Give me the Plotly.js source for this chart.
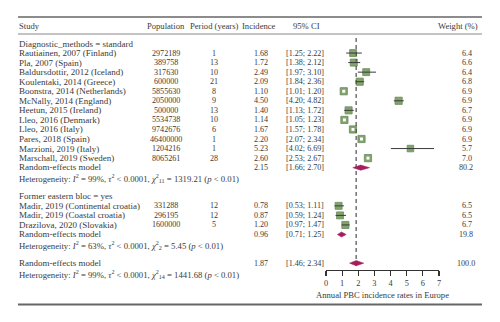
<!DOCTYPE html>
<html><head><meta charset="utf-8">
<script src="https://cdn.plot.ly/plotly-3.0.1.min.js"></script>
<style>body{margin:0;padding:0;background:#fff}#c{width:500px;height:322px}</style>
</head><body><div id="c"></div>
<script>
// ---- data ----
const group1Label = "Diagnostic_methods = standard";
const group2Label = "Former eastern bloc = yes";
const studies = ["Rautiainen, 2007 (Finland)","Pla, 2007 (Spain)","Baldursdottir, 2012 (Iceland)","Koulentaki, 2014 (Greece)","Boonstra, 2014 (Netherlands)","McNally, 2014 (England)","Heetun, 2015 (Ireland)","Lleo, 2016 (Denmark)","Lleo, 2016 (Italy)","Pares, 2018 (Spain)","Marzioni, 2019 (Italy)","Marschall, 2019 (Sweden)","Madir, 2019 (Continental croatia)","Madir, 2019 (Coastal croatia)","Drazilova, 2020 (Slovakia)"];
const population = ["2972189","389758","317630","600000","5855630","2050000","500000","5534738","9742676","46400000","1204216","8065261","331288","296195","1600000"];
const period = [1,13,10,21,8,9,13,10,6,1,1,28,12,12,5];
const incidence = [1.68,1.72,2.49,2.09,1.10,4.50,1.40,1.14,1.67,2.20,5.23,2.60,0.78,0.87,1.20];
const ciLow = [1.25,1.38,1.97,1.84,1.01,4.20,1.13,1.05,1.57,2.07,4.02,2.53,0.53,0.59,0.97];
const ciHigh = [2.22,2.12,3.10,2.36,1.20,4.82,1.72,1.23,1.78,2.34,6.69,2.67,1.11,1.24,1.47];
const weight = [6.4,6.6,6.4,6.8,6.9,6.9,6.7,6.9,6.9,6.9,5.7,7.0,6.5,6.5,6.7];
const groupOf = [1,1,1,1,1,1,1,1,1,1,1,1,2,2,2];
// pooled results: [estimate, low, high, weight]
const pooled1 = [2.15,1.66,2.70,80.2];
const pooled2 = [0.96,0.71,1.25,19.8];
const pooledAll = [1.87,1.46,2.34,100.0];
const het1 = "Heterogeneity: <i>I</i><sup>2</sup> = 99%, <i>τ</i><sup>2</sup> < 0.0001, <i>χ</i><sup>2</sup><sub>11</sub> = 1319.21 (<i>p</i> < 0.01)";
const het2 = "Heterogeneity: <i>I</i><sup>2</sup> = 63%, <i>τ</i><sup>2</sup> < 0.0001, <i>χ</i><sup>2</sup><sub>2</sub> = 5.45 (<i>p</i> < 0.01)";
const hetAll = "Heterogeneity: <i>I</i><sup>2</sup> = 99%, <i>τ</i><sup>2</sup> < 0.0001, <i>χ</i><sup>2</sup><sub>14</sub> = 1441.68 (<i>p</i> < 0.01)";
const headers = ["Study","Population","Period (years)","Incidence","95% CI","Weight (%)"];
const xTicks = [0,1,2,3,4,5,6,7];
const axisTitle = "Annual PBC incidence rates in Europe";

// ---- layout helpers ----
const W = 500, H = 322;
const FONT = "Liberation Serif, Times New Roman, serif";
const TXT = "#3a3a3a";
const rowY = k => 43.5 + k * 9.55;         // pixel row centre
const py = p => 1 - p / H;                  // pixel -> paper y
const px = p => p / W;                      // pixel -> paper x
const fmt2 = v => v.toFixed(2);
const fmtCI = (l,h) => "[" + fmt2(l) + "; " + fmt2(h) + "]";

const studyRow = [];
let k1 = 1, k2 = 17;
for (let i = 0; i < studies.length; i++) studyRow.push(groupOf[i] === 1 ? k1++ : k2++);
const rows = {g1:0, re1:13, het1:14, g2:16, re2:20, het2:21, reAll:23, hetAll:24};

const ann = [];
function t(text, x, p, anchor, size) {
  ann.push({text:text, xref:'paper', yref:'paper', x:px(x), y:py(p), xanchor:anchor, yanchor:'middle', showarrow:false, font:{family:FONT,size:size,color:TXT}, borderpad:0});
}
const S_LAB = 9, S_NUM = 8.1, S_HEAD = 8.6, S_HET = 8.7;
const X_STUDY = 18, X_POP = 166, X_PER = 214, X_INC = 261, X_CI = 285, X_W = 473;
const hy = 26;
t(headers[0], X_STUDY, hy, 'left', S_HEAD);
t(headers[1], X_POP, hy, 'center', S_HEAD);
t(headers[2], X_PER, hy, 'center', S_HEAD);
t(headers[3], X_INC - 2, hy, 'center', S_HEAD);
t(headers[4], 292, hy, 'left', S_HEAD);
t(headers[5], 479, hy, 'right', S_HEAD);
t(group1Label, X_STUDY, rowY(rows.g1), 'left', S_LAB);
t(group2Label, X_STUDY, rowY(rows.g2), 'left', S_LAB);
for (let i = 0; i < studies.length; i++) {
  const y = rowY(studyRow[i]);
  t(studies[i], X_STUDY, y, 'left', S_LAB);
  t(population[i], X_POP, y, 'center', S_NUM);
  t(String(period[i]), X_PER, y, 'center', S_NUM);
  t(fmt2(incidence[i]), X_INC, y, 'center', S_NUM);
  t(fmtCI(ciLow[i], ciHigh[i]), X_CI, y, 'left', S_NUM);
  t(weight[i].toFixed(1), X_W, y, 'right', S_NUM);
}
const pooledRows = [[pooled1, rows.re1, rows.het1, het1],[pooled2, rows.re2, rows.het2, het2],[pooledAll, rows.reAll, rows.hetAll, hetAll]];
pooledRows.forEach(([p, r, hr, ht]) => {
  const y = rowY(r);
  t("Random-effects model", X_STUDY, y - 0.5, 'left', S_LAB);
  t(fmt2(p[0]), X_INC, y, 'center', S_NUM);
  t(fmtCI(p[1], p[2]), X_CI, y, 'left', S_NUM);
  t(p[3].toFixed(1), X_W + (p[3] >= 100 ? 3 : 1), y, 'right', S_NUM);
  t(ht, X_STUDY, rowY(hr) + 1.5, 'left', S_HET);
});

const shapes = [
  {type:'line', xref:'paper', yref:'paper', x0:px(18), x1:px(482), y0:py(17), y1:py(17), line:{color:'#666', width:1.6}},
  {type:'line', xref:'paper', yref:'paper', x0:px(18), x1:px(482), y0:py(34), y1:py(34), line:{color:'#888', width:1}},
  {type:'line', xref:'paper', yref:'paper', x0:px(18), x1:px(482), y0:py(304.5), y1:py(304.5), line:{color:'#666', width:2}},
  {type:'line', xref:'x', yref:'y', x0:pooledAll[0], x1:pooledAll[0], y0:38, y1:267, line:{color:'#7a7a7a', width:1.6, dash:'4px,3px'}, layer:'below'}
];

const traces = [];
const sqPx = w => 7.2 * Math.sqrt(w / 6.9);
const unitPx = (439 - 326) / 7;
const lx = [], ly = [], wx = [], wy = [];
for (let i = 0; i < studies.length; i++) {
  const y = rowY(studyRow[i]);
  if ((ciHigh[i] - ciLow[i]) * unitPx > sqPx(weight[i])) { lx.push(ciLow[i], ciHigh[i], null); ly.push(y, y, null); }
  else { wx.push(incidence[i]); wy.push(y); }
}
traces.push({type:'scatter', mode:'markers', x:incidence, y:studyRow.map(rowY), marker:{symbol:'square', size:weight.map(sqPx), color:'#4d7d2f', line:{color:'#2f5a1a', width:0.8}}, cliponaxis:false, hoverinfo:'skip'});
traces.push({type:'scatter', mode:'lines', x:lx, y:ly, line:{color:'#3a3a3a', width:1}, cliponaxis:false, hoverinfo:'skip'});
traces.push({type:'scatter', mode:'markers', x:wx, y:wy, marker:{symbol:'square', size:3, color:'#ffffff', line:{width:0}}, cliponaxis:false, hoverinfo:'skip'});
pooledRows.forEach(([p, r]) => {
  const y = rowY(r), h = 2.6;
  traces.push({type:'scatter', mode:'lines', x:[p[1], p[0], p[2], p[0], p[1]], y:[y, y - h, y, y + h, y], fill:'toself', fillcolor:'#a51d5c', line:{color:'#a51d5c', width:0.5}, cliponaxis:false, hoverinfo:'skip'});
});

const layout = {
  width:W, height:H, margin:{l:0, r:0, t:0, b:0}, paper_bgcolor:'#fff', plot_bgcolor:'rgba(0,0,0,0)',
  showlegend:false,
  xaxis:{domain:[326/W, 439/W], range:[0,7], tickvals:xTicks, showgrid:false, zeroline:false, showline:true, linecolor:'#333', linewidth:1.2,
    ticks:'outside', ticklen:5, tickwidth:1.2, tickcolor:'#333', tickfont:{family:FONT, size:8.3, color:TXT}, fixedrange:true,
    title:{text:axisTitle, font:{family:FONT, size:8.6, color:TXT}, standoff:4}},
  yaxis:{domain:[(H-270)/H, 1], range:[270, 0], visible:false, fixedrange:true},
  annotations:ann, shapes:shapes
};
Plotly.newPlot('c', traces, layout, {staticPlot:true, displayModeBar:false});
</script></body></html>
